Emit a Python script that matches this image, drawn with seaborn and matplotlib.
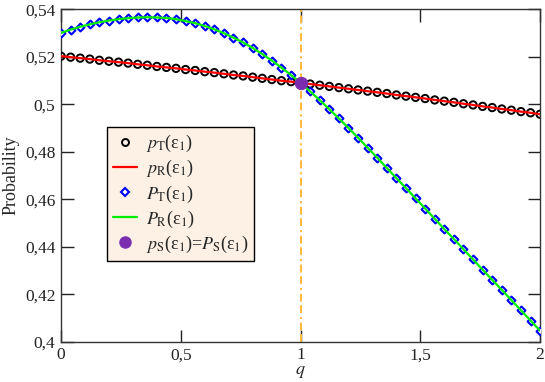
import pandas as pd
import matplotlib
matplotlib.use("Agg")
import matplotlib.pyplot as plt
import seaborn as sns
from matplotlib.lines import Line2D

sns.set_style("ticks")
plt.rcParams['font.family'] = ['Liberation Serif', 'DejaVu Serif']
plt.rcParams['mathtext.fontset'] = 'stix'

# q grid (step 0.04)
q = [0.00, 0.04, 0.08, 0.12, 0.16, 0.20, 0.24, 0.28, 0.32, 0.36,
     0.40, 0.44, 0.48, 0.52, 0.56, 0.60, 0.64, 0.68, 0.72, 0.76,
     0.80, 0.84, 0.88, 0.92, 0.96, 1.00, 1.04, 1.08, 1.12, 1.16,
     1.20, 1.24, 1.28, 1.32, 1.36, 1.40, 1.44, 1.48, 1.52, 1.56,
     1.60, 1.64, 1.68, 1.72, 1.76, 1.80, 1.84, 1.88, 1.92, 1.96, 2.00]

# p_T(eps1) = p_R(eps1)
p_T = [0.5202, 0.5198, 0.5194, 0.5190, 0.5185, 0.5181, 0.5177, 0.5173, 0.5168, 0.5164,
       0.5159, 0.5155, 0.5151, 0.5146, 0.5142, 0.5137, 0.5133, 0.5128, 0.5123, 0.5119,
       0.5114, 0.5109, 0.5104, 0.5099, 0.5095, 0.5090, 0.5085, 0.5080, 0.5075, 0.5070,
       0.5065, 0.5060, 0.5055, 0.5050, 0.5045, 0.5039, 0.5034, 0.5029, 0.5024, 0.5018,
       0.5013, 0.5008, 0.5002, 0.4997, 0.4991, 0.4986, 0.4980, 0.4975, 0.4969, 0.4964, 0.4958]
p_R = list(p_T)

# P_T(eps1) = P_R(eps1)
P_T = [0.5300, 0.5314, 0.5326, 0.5336, 0.5345, 0.5352, 0.5358, 0.5362, 0.5365, 0.5366,
       0.5365, 0.5363, 0.5358, 0.5350, 0.5341, 0.5329, 0.5315, 0.5299, 0.5280, 0.5260,
       0.5237, 0.5211, 0.5184, 0.5154, 0.5123, 0.5090, 0.5054, 0.5017, 0.4979, 0.4940,
       0.4900, 0.4859, 0.4817, 0.4775, 0.4732, 0.4689, 0.4647, 0.4604, 0.4561, 0.4518,
       0.4475, 0.4433, 0.4390, 0.4347, 0.4304, 0.4261, 0.4219, 0.4176, 0.4133, 0.4090, 0.4047]
P_R = list(P_T)

# crossing point p_S = P_S
q_S = [1.0]
p_S = [0.509]

x_ticks = [0, 0.5, 1, 1.5, 2]
x_labels = ["0", "0,5", "1", "1,5", "2"]
y_ticks = [0.40, 0.42, 0.44, 0.46, 0.48, 0.50, 0.52, 0.54]
y_labels = ["0,4", "0,42", "0,44", "0,46", "0,48", "0,5", "0,52", "0,54"]

df = pd.DataFrame({"q": q, "p_T": p_T, "p_R": p_R, "P_T": P_T, "P_R": P_R})

fig = plt.figure(figsize=(5.45, 3.82), dpi=100)
ax = fig.add_axes([0.112, 0.105, 0.879, 0.871])

# vertical marker at q = 1
ax.axvline(1.0, color='#ffb940', lw=1.5, dashes=(3.8, 1.7, 3.8, 1.7, 1.0, 1.9), zorder=1)

sns.scatterplot(data=df, x="q", y="p_T", ax=ax, marker='o', s=28,
                facecolor='none', edgecolor='black', linewidth=1.4, zorder=3)
sns.lineplot(data=df, x="q", y="p_R", ax=ax, color='#ff0000', lw=1.6, zorder=4)
sns.scatterplot(data=df, x="q", y="P_T", ax=ax, marker='D', s=16,
                facecolor='white', edgecolor='#0000ff', linewidth=1.5, zorder=3)
sns.lineplot(data=df, x="q", y="P_R", ax=ax, color='#00ee00', lw=1.6, zorder=4)
sns.scatterplot(x=q_S, y=p_S, ax=ax, s=80, color='#7b2fb0', edgecolor='#7b2fb0', zorder=5)

ax.set_xlim(0, 2)
ax.set_ylim(0.4, 0.54)
ax.set_xticks(x_ticks)
ax.set_xticklabels(x_labels)
ax.set_yticks(y_ticks)
ax.set_yticklabels(y_labels)
ax.tick_params(direction='in', length=9, width=1, top=True, right=True,
               labelsize=12.5, colors='#222222', pad=4)
for s in ax.spines.values():
    s.set_linewidth(1.0)
    s.set_color('#333333')

ax.set_xlabel("$q$", fontsize=13, labelpad=0)
ax.set_ylabel("Probability", fontsize=13, labelpad=4)

# legend
handles = [
    Line2D([], [], ls='none', marker='o', ms=5, mfc='none', mec='black', mew=1.4),
    Line2D([], [], color='#ff0000', lw=1.6),
    Line2D([], [], ls='none', marker='D', ms=4, mfc='white', mec='#0000ff', mew=1.5),
    Line2D([], [], color='#00ee00', lw=1.6),
    Line2D([], [], ls='none', marker='o', ms=8, color='#7b2fb0'),
]
labels = [
    r"$p_{\rm T}$(ε$_1$)",
    r"$p_{\rm R}$(ε$_1$)",
    r"$P_{\rm T}$(ε$_1$)",
    r"$P_{\rm R}$(ε$_1$)",
    r"$p_{\rm S}$(ε$_1$)=$P_{\rm S}$(ε$_1$)",
]
leg = ax.legend(handles, labels, loc='upper left', bbox_to_anchor=(0.096, 0.646),
                borderaxespad=0, fontsize=13, frameon=True, fancybox=False,
                shadow=False, handlelength=1.3, handletextpad=0.5,
                labelspacing=0.22, borderpad=0.35)
leg.get_frame().set_facecolor('#fcf1e4')
leg.get_frame().set_edgecolor('black')
leg.get_frame().set_linewidth(1.0)
leg.get_frame().set_alpha(1)

fig.savefig("out.png", dpi=100)
